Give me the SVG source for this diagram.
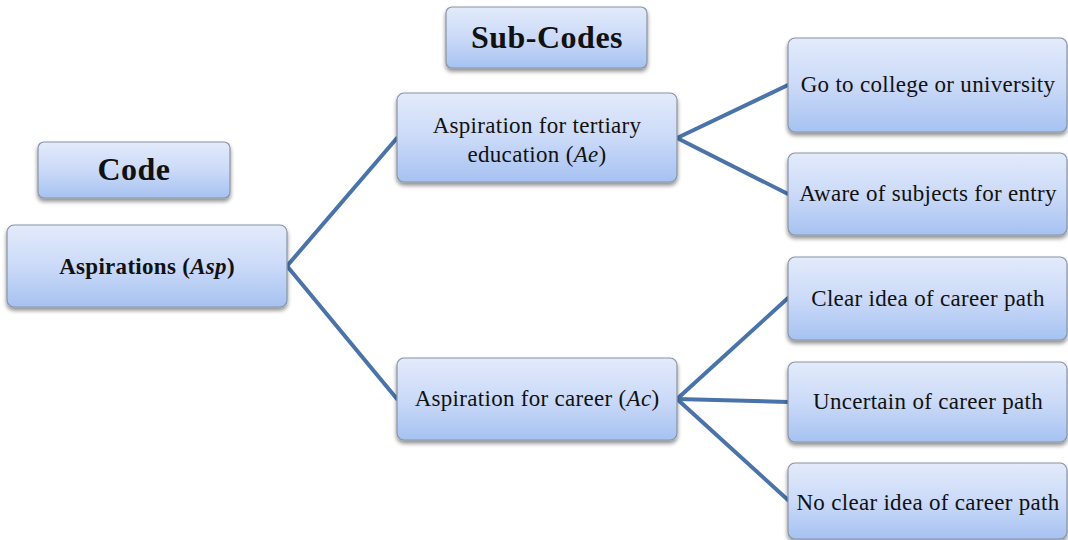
<svg xmlns="http://www.w3.org/2000/svg" width="1068" height="540" viewBox="0 0 1068 540">
  <style>
    .box { fill: url(#boxFill); stroke: #8a93a3; stroke-width: 1.2; filter: url(#shadow); }
    .txt { font-family: "Liberation Serif", "Times New Roman", serif; font-size: 23px; fill: #111; text-anchor: middle; letter-spacing: 0.3px; }
    .head { font-family: "Liberation Serif", "Times New Roman", serif; font-size: 32px; font-weight: bold; fill: #111; text-anchor: middle; letter-spacing: 0.5px; }
    .conn { stroke: #4a73a9; stroke-width: 4; fill: none; stroke-linecap: round; }
  </style>
  <defs>
    <linearGradient id="boxFill" x1="0" y1="0" x2="0" y2="1">
      <stop offset="0" stop-color="#e3ebfb"/>
      <stop offset="0.5" stop-color="#cbdaf8"/>
      <stop offset="1" stop-color="#a6c2f1"/>
    </linearGradient>
    <filter id="shadow" x="-10%" y="-10%" width="120%" height="130%">
      <feGaussianBlur in="SourceAlpha" stdDeviation="2"/>
      <feOffset dx="0" dy="3" result="b"/>
      <feComponentTransfer><feFuncA type="linear" slope="0.45"/></feComponentTransfer>
      <feMerge><feMergeNode/><feMergeNode in="SourceGraphic"/></feMerge>
    </filter>
  </defs>
  <rect width="1068" height="540" fill="#ffffff"/>

  <g id="connectors">
    <line class="conn" x1="287" y1="266" x2="397" y2="138"/>
    <line class="conn" x1="287" y1="266" x2="397" y2="399"/>
    <line class="conn" x1="677" y1="138" x2="788" y2="85"/>
    <line class="conn" x1="677" y1="138" x2="788" y2="194"/>
    <line class="conn" x1="677" y1="399" x2="788" y2="298"/>
    <line class="conn" x1="677" y1="399" x2="788" y2="402"/>
    <line class="conn" x1="677" y1="399" x2="788" y2="500"/>
  </g>

  <g id="code-header">
    <rect class="box" x="38" y="142" width="192" height="56" rx="6"/>
    <text class="head" x="134" y="180">Code</text>
  </g>
  <g id="subcodes-header">
    <rect class="box" x="446" y="7" width="201" height="61" rx="6"/>
    <text class="head" x="547" y="48">Sub-Codes</text>
  </g>

  <g id="asp">
    <rect class="box" x="7" y="225" width="280" height="82" rx="7"/>
    <text class="txt" x="147" y="274" font-weight="bold">Aspirations (<tspan font-style="italic">Asp</tspan>)</text>
  </g>
  <g id="ae">
    <rect class="box" x="397" y="93" width="280" height="89" rx="7"/>
    <text class="txt" x="537" y="133">Aspiration for tertiary</text>
    <text class="txt" x="537" y="162">education (<tspan font-style="italic">Ae</tspan>)</text>
  </g>
  <g id="ac">
    <rect class="box" x="397" y="358" width="280" height="82" rx="7"/>
    <text class="txt" x="537" y="406">Aspiration for career (<tspan font-style="italic">Ac</tspan>)</text>
  </g>

  <g id="college">
    <rect class="box" x="788" y="38" width="279" height="94" rx="7"/>
    <text class="txt" x="928" y="92">Go to college or university</text>
  </g>
  <g id="subjects">
    <rect class="box" x="788" y="153" width="279" height="82" rx="7"/>
    <text class="txt" x="928" y="201">Aware of subjects for entry</text>
  </g>
  <g id="clear">
    <rect class="box" x="788" y="257" width="279" height="83" rx="7"/>
    <text class="txt" x="928" y="306">Clear idea of career path</text>
  </g>
  <g id="uncertain">
    <rect class="box" x="788" y="362" width="279" height="80" rx="7"/>
    <text class="txt" x="928" y="409">Uncertain of career path</text>
  </g>
  <g id="noclear">
    <rect class="box" x="788" y="463" width="279" height="76" rx="7"/>
    <text class="txt" x="928" y="510">No clear idea of career path</text>
  </g>
</svg>
